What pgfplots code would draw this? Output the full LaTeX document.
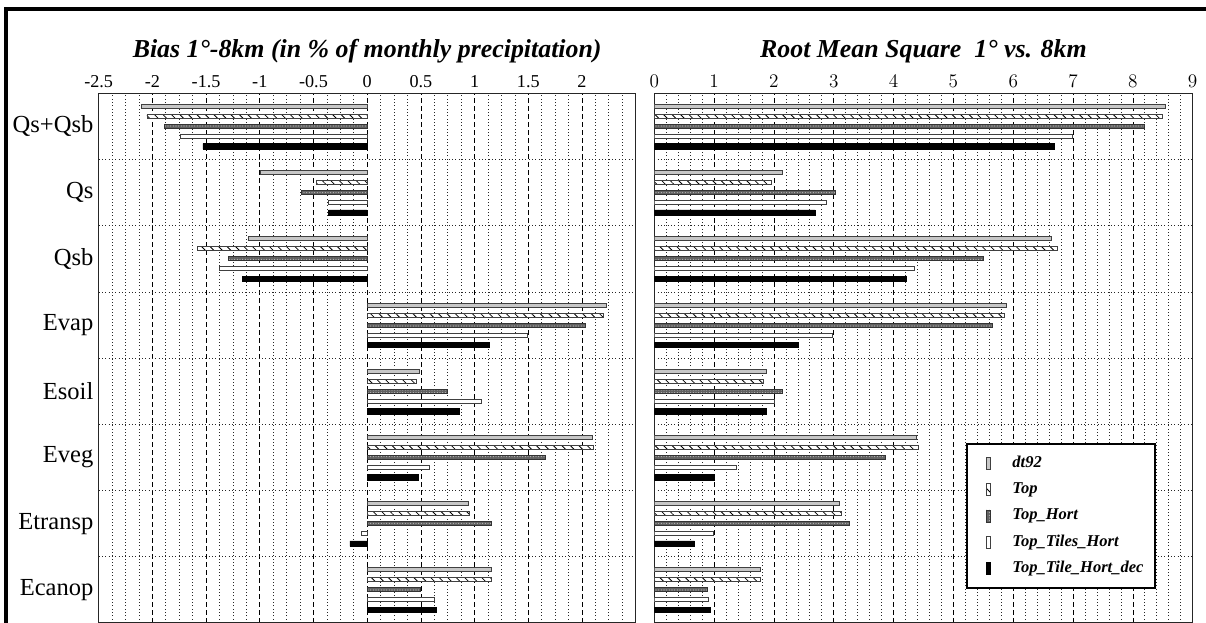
\documentclass[border=0pt]{standalone}
\usepackage{fontspec}
\setmainfont{Liberation Serif}
\usepackage{pgfplots}
\usepackage{pgfplotstable}
\pgfplotsset{compat=1.18}
\usetikzlibrary{patterns.meta}

% y: 7 = Qs+Qsb (top) ... 0 = Ecanop (bottom)
\pgfplotstableread{
y dt92 top hort tiles dec
7 -2.10 -2.05 -1.89 -1.74 -1.53
6 -0.99 -0.47 -0.61 -0.36 -0.36
5 -1.11 -1.58 -1.29 -1.38 -1.16
4  2.23  2.20  2.03  1.49  1.14
3  0.49  0.46  0.75  1.06  0.86
2  2.10  2.11  1.66  0.58  0.48
1  0.94  0.95  1.16 -0.05 -0.16
0  1.16  1.16  0.50  0.63  0.64
}\biastab

\pgfplotstableread{
y dt92 top hort tiles dec
7 8.54 8.49 8.20 6.99 6.69
6 2.15 1.95 3.03 2.88 2.69
5 6.64 6.74 5.50 4.35 4.22
4 5.89 5.85 5.65 2.98 2.40
3 1.88 1.83 2.15 2.00 1.88
2 4.39 4.41 3.87 1.38 1.00
1 3.09 3.12 3.27 0.99 0.67
0 1.77 1.77 0.89 0.91 0.94
}\rmstab

\pgfplotsset{
  panel/.style={
    scale only axis, height=397.2pt,
    xbar, bar width=3pt,
    ymin=-0.5, ymax=7.5, ytick={0,...,7},
    minor ytick={0.5,1.5,...,6.5},
    xticklabel pos=upper,
    major tick length=0pt, minor tick length=0pt,
    xmajorgrids, xminorgrids, yminorgrids,
    major grid style={black, line width=0.5pt, dash pattern=on 3.5pt off 2.5pt},
    minor grid style={black!85, line width=0.5pt, dash pattern=on 0.6pt off 1.9pt},
    axis line style={line width=0.9pt, black!85},
    tick label style={font=\fontsize{13.6}{15}\selectfont},
    xticklabel style={anchor=base, yshift=4.7pt},
    title style={font=\bfseries\itshape\fontsize{19.4}{22}\selectfont,
      at={(0.5,1)}, anchor=base, yshift=21.2pt},
  },
  barleg/.style={legend image code/.code={
      \path (0pt,0pt) (24.5pt,0pt);
      \draw[##1] (7pt,-4.5pt) rectangle (10pt,4.5pt);}},
  sA/.style={bar shift=15pt, fill=black!22, draw=black!75, line width=0.6pt},
  sB/.style={bar shift=7.5pt, fill=white, draw=black!75, line width=0.6pt,
    postaction={pattern={Lines[angle=-45,distance=4.5pt,line width=0.6pt]}}},
  sC/.style={bar shift=0pt, fill=black!62, draw=black!80, line width=0.6pt,
    postaction={pattern={Dots[distance=2pt,radius=0.4pt]}, pattern color=white!80!black}},
  sD/.style={bar shift=-7.5pt, fill=white, draw=black!75, line width=0.6pt},
  sE/.style={bar shift=-15pt, fill=black, draw=black, line width=0.4pt, bar width=4pt},
}

\begin{document}
\begin{tikzpicture}
\useasboundingbox (0,0) rectangle (904.5pt,466.5pt);
\clip (0,0) rectangle (904.5pt,466.5pt);

% outer frame (right and bottom edges are cut off)
\draw[line width=3pt] (4.5pt,-10pt) -- (4.5pt,460.1pt) -- (930pt,460.1pt);

\begin{axis}[panel,
  at={(74pt,-0.675pt)}, anchor=south west, width=402.75pt,
  xmin=-2.5, xmax=2.5,
  xtick={-2.5,-2,-1.5,-1,-0.5,0,0.5,1,1.5,2,2.5},
  xticklabels={-2.5,-2,-1.5,-1,-0.5,0,0.5,1,1.5,2,},
  minor x tick num=3,
  yticklabels={Ecanop,Etransp,Eveg,Esoil,Evap,Qsb,Qs,Qs+Qsb},
  yticklabel style={font=\fontsize{18.4}{20}\selectfont, inner xsep=0pt, xshift=-3.8pt},
  title={Bias 1°-8km (in \% of monthly precipitation)},
]
\addplot[sA] table[x=dt92, y=y] {\biastab};
\addplot[sB] table[x=top, y=y] {\biastab};
\addplot[sC] table[x=hort, y=y] {\biastab};
\addplot[sD] table[x=tiles, y=y] {\biastab};
\addplot[sE] table[x=dec, y=y] {\biastab};
\end{axis}

\begin{axis}[panel,
  at={(490.7pt,-0.675pt)}, anchor=south west, width=403.8pt,
  xmin=0, xmax=9, xtick={0,...,9},
  minor x tick num=4,
  yticklabels={},
  title={Root Mean Square\ \ 1° vs. 8km},
  legend style={at={(0.579,0.339)}, anchor=north west, draw=black, line width=1.5pt,
    inner xsep=7pt, inner ysep=6.4pt, row sep=3.65pt, column sep=0pt,
    font=\bfseries\itshape\fontsize{12.4}{14}\selectfont,
    nodes={inner xsep=2pt, inner ysep=2pt, text height=9pt, text depth=3pt}},
  legend cell align=left,
]
\addplot[sA, barleg] table[x=dt92, y=y] {\rmstab};
\addlegendentry{dt92}
\addplot[sB, barleg] table[x=top, y=y] {\rmstab};
\addlegendentry{Top}
\addplot[sC, barleg] table[x=hort, y=y] {\rmstab};
\addlegendentry{Top\_Hort}
\addplot[sD, barleg] table[x=tiles, y=y] {\rmstab};
\addlegendentry{Top\_Tiles\_Hort}
\addplot[sE, barleg] table[x=dec, y=y] {\rmstab};
\addlegendentry{Top\_Tile\_Hort\_dec}
\end{axis}
\end{tikzpicture}
\end{document}
